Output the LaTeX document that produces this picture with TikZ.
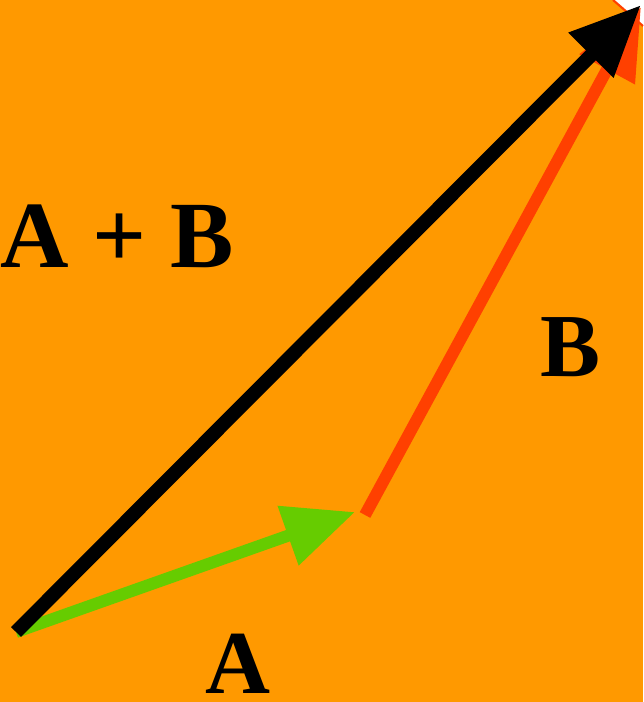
\documentclass[tikz,border=0pt]{standalone}
\usepackage{fontspec}
\setmainfont{Liberation Serif}
\usetikzlibrary{arrows.meta}
\definecolor{bgorange}{HTML}{FF9900}
\definecolor{vecgreen}{HTML}{66CC00}
\definecolor{vecred}{HTML}{FF4000}

\begin{document}
\begin{tikzpicture}[every node/.style={inner sep=0pt,anchor=base west,font=\fontsize{25.6}{30}\selectfont\bfseries},
  vec/.style={line width=0.13cm,-{Triangle[length=0.71cm,width=0.6cm]}}]
\fill[bgorange] (0,0) rectangle (6.43,7.02);
\useasboundingbox (0,0) rectangle (6.43,7.02);
\fill[white] (6.13,7.02)--(6.43,7.02)--(6.43,6.76)--cycle;
\draw[vecred,line width=0.6pt] (6.13,7.02)--(6.43,6.76);
\coordinate (o) at (0.16,0.70);
\coordinate (p) at (3.55,1.90);
\coordinate (q) at (3.65,1.87);
\coordinate (s) at (6.41,6.95);
\coordinate (t) at (6.41,6.97);
\draw[vec,vecred,line width=0.12cm] (q)--(s);
\draw[vec,vecgreen,line width=0.12cm] (o)--(p);
\draw[vec,black,line width=0.14cm] (o)--(t);
\node[font=\fontsize{27}{32}\selectfont\bfseries] (sumlabel) at (0.0,4.34) {A + B};
\node (blabel) at (5.40,3.25) {B};
\node (alabel) at (2.05,0.09) {A};
\end{tikzpicture}
\end{document}
